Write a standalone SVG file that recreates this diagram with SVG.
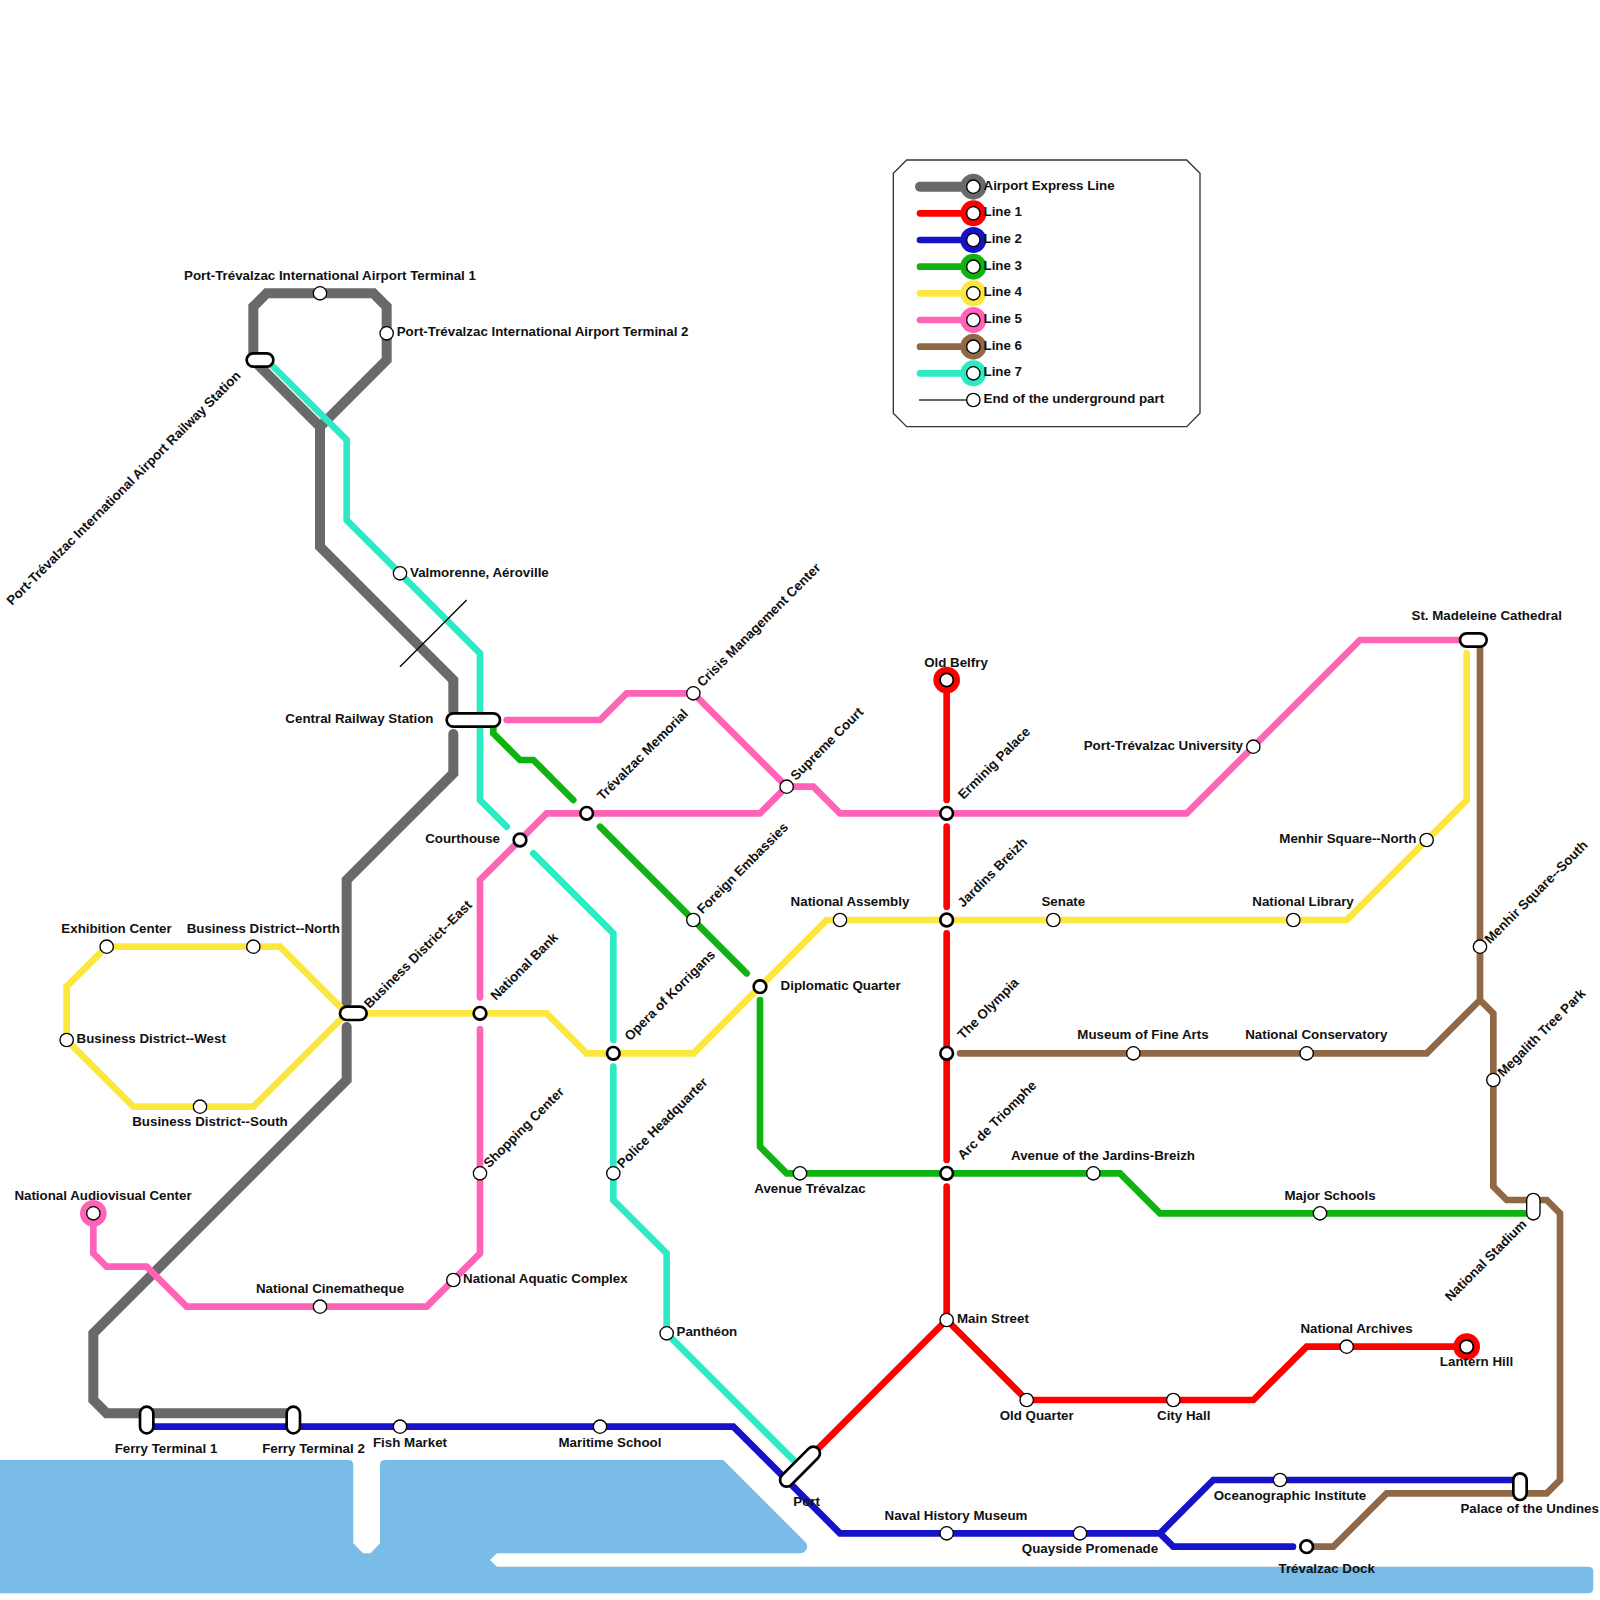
<svg xmlns="http://www.w3.org/2000/svg" width="1600" height="1600" viewBox="0 0 1600 1600">
<style>
.l{fill:none;stroke-width:6.67;stroke-linejoin:miter;stroke-linecap:round}
.g{stroke:#696969;stroke-width:10}.r{stroke:#ff0000}.b{stroke:#1512c8}.n{stroke:#0fb30f}.y{stroke:#fbe73e}.p{stroke:#ff63b8}.w{stroke:#916846}.t{stroke:#2ceac4}
.s{fill:#fff;stroke:#000;stroke-width:1.33}
.x{fill:#fff;stroke:#000;stroke-width:2.67}
.h{fill:#fff;stroke:#000;stroke-width:1.8}
text{font-family:"Liberation Sans",Arial,sans-serif;font-size:13.33px;font-weight:bold;fill:#111}
.m{text-anchor:middle}.e{text-anchor:end}
</style>
<rect width="1600" height="1600" fill="#fff"/>
<g id="water"><path fill="#79bce8" d="M0 1460H348.300Q353.300 1460 353.300 1465V1543.300L363 1553.300H370.500L380 1543.300V1465Q380 1460 385 1460H723.300L805 1541.700Q809 1546 806 1550Q804 1553.300 800 1553.300H497L490 1560L497 1566.670H1588.300Q1593.300 1566.670 1593.300 1571.670V1588.300Q1593.300 1593.300 1588.300 1593.300H0Z"/></g>
<g id="connectors">
<path class="l g" d="M320 426.670L386.670 360V306.670L373.330 293.330H266.670L253.330 306.670V360L320 426.670V546.670L453.330 680V711"/>
<path class="l g" d="M453.330 734V773.330L346.670 880V1003"/>
<path class="l g" d="M346.670 1027V1080L93.330 1333.330V1400L106.670 1413.330H293.330"/>
<path class="l r" d="M946.670 680V800M946.670 826.670V906.670M946.670 933.330V1160M946.670 1186.670V1320M813.330 1453.330L946.670 1320L1026.670 1400H1253.330L1306.670 1346.670H1466.670"/>
<path class="l b" d="M146.670 1426.670H733.330L840 1533.330H1160L1213.330 1480H1520M1160 1533.330L1173.330 1546.670H1293"/>
<path class="l n" d="M493.330 726V733.330L520 760H533.330L573.330 800M600 826.670L746.670 973.330M760 1000V1146.670L786.670 1173.330H1120L1160 1213.330H1533.330"/>
<path class="l y" d="M1466.670 653.330V800L1346.670 920H826.670L693.330 1053.330H586.670L546.670 1013.330H353.330M346.670 1013.330L280 946.670H106.670L66.670 986.670V1040L133.330 1106.670H253.330L346.670 1013.330"/>
<path class="l p" d="M506.670 720H600L626.670 693.330H693.330L786.670 786.670H813.330L840 813.330H1186.670L1360 640H1466.670"/>
<path class="l p" d="M93.330 1213.330V1253.330L106.670 1266.670H146.670L186.670 1306.670H426.670L480 1253.330V1029.330M480 997.330V880L546.670 813.330H760L786.670 786.670"/>
<path class="l w" d="M1306.670 1546.670H1333.330L1386.670 1493.330H1546.670L1560 1480V1213.330L1546.670 1200H1506.670L1493.330 1186.670V1013.330L1480 1000V640M1480 1000L1426.670 1053.330H960"/>
<path class="l t" d="M266.670 360L346.670 440V520L480 653.330V800L506.670 826.670M533.330 853.330L613.330 933.330V1040M613.330 1066.670V1200L666.670 1253.330V1333.330L800 1466.670"/>
<path fill="none" stroke="#000" stroke-width="1.33" d="M400 666.670L466.670 600"/>
</g>
<g id="legend">
<path fill="#fff" stroke="#333" stroke-width="1.33" d="M906.670 160H1186.670L1200 173.330V413.330L1186.670 426.670H906.670L893.330 413.330V173.330Z"/>
<path class="l g" d="M920 186.670H973.330"/><circle cx="973.330" cy="186.670" r="13" fill="#696969"/><circle class="s" cx="973.330" cy="186.670" r="6.67"/><text x="983.500" y="190">Airport Express Line</text>
<path class="l r" d="M920 213.330H973.330"/><circle cx="973.330" cy="213.330" r="13" fill="#ff0000"/><circle class="s" cx="973.330" cy="213.330" r="6.67"/><text x="983.500" y="216.300">Line 1</text>
<path class="l b" d="M920 240H973.330"/><circle cx="973.330" cy="240" r="13" fill="#1512c8"/><circle class="s" cx="973.330" cy="240" r="6.67"/><text x="983.500" y="243">Line 2</text>
<path class="l n" d="M920 266.670H973.330"/><circle cx="973.330" cy="266.670" r="13" fill="#0fb30f"/><circle class="s" cx="973.330" cy="266.670" r="6.67"/><text x="983.500" y="269.600">Line 3</text>
<path class="l y" d="M920 293.330H973.330"/><circle cx="973.330" cy="293.330" r="13" fill="#fbe73e"/><circle class="s" cx="973.330" cy="293.330" r="6.67"/><text x="983.500" y="296.300">Line 4</text>
<path class="l p" d="M920 320H973.330"/><circle cx="973.330" cy="320" r="13" fill="#ff63b8"/><circle class="s" cx="973.330" cy="320" r="6.67"/><text x="983.500" y="323">Line 5</text>
<path class="l w" d="M920 346.670H973.330"/><circle cx="973.330" cy="346.670" r="13" fill="#916846"/><circle class="s" cx="973.330" cy="346.670" r="6.67"/><text x="983.500" y="349.600">Line 6</text>
<path class="l t" d="M920 373.330H973.330"/><circle cx="973.330" cy="373.330" r="13" fill="#2ceac4"/><circle class="s" cx="973.330" cy="373.330" r="6.67"/><text x="983.500" y="376.300">Line 7</text>
<path stroke="#333" stroke-width="1.33" d="M919 400H973.330"/><circle class="s" cx="973.330" cy="400" r="6.67"/><text x="983.500" y="403">End of the underground part</text>
</g>
<g id="st-t1"><circle class="s" cx="320" cy="293.330" r="6.67"/><text class="m" x="330" y="280">Port-Trévalzac International Airport Terminal 1</text></g>
<g id="st-t2"><circle class="s" cx="386.670" cy="333.330" r="6.67"/><text x="396.700" y="336">Port-Trévalzac International Airport Terminal 2</text></g>
<g id="st-airportrail"><rect class="x" x="246.670" y="353.330" width="26.670" height="13.330" rx="6.670"/><text class="e" transform="translate(241.500 376.500) rotate(-45)">Port-Trévalzac International Airport Railway Station</text></g>
<g id="st-valmorenne"><circle class="s" cx="400" cy="573.330" r="6.67"/><text x="410" y="576.500">Valmorenne, Aéroville</text></g>
<g id="st-central"><rect class="x" x="446.670" y="713.330" width="53.330" height="13.330" rx="6.670"/><text class="e" x="433.500" y="723">Central Railway Station</text></g>
<g id="st-courthouse"><circle class="x" cx="520" cy="840" r="6.33"/><text class="e" x="500" y="843">Courthouse</text></g>
<g id="st-memorial"><circle class="x" cx="586.670" cy="813.330" r="6.33"/><text transform="translate(602.500 801) rotate(-45)">Trévalzac Memorial</text></g>
<g id="st-crisis"><circle class="s" cx="693.330" cy="693.330" r="6.67"/><text transform="translate(702.500 687.500) rotate(-45)">Crisis Management Center</text></g>
<g id="st-supreme"><circle class="s" cx="786.670" cy="786.670" r="6.67"/><text transform="translate(796 781) rotate(-45)">Supreme Court</text></g>
<g id="st-foreign"><circle class="s" cx="693.330" cy="920" r="6.67"/><text transform="translate(702.500 914.500) rotate(-45)">Foreign Embassies</text></g>
<g id="st-assembly"><circle class="s" cx="840" cy="920" r="6.67"/><text class="m" x="850" y="906">National Assembly</text></g>
<g id="st-senate"><circle class="s" cx="1053.330" cy="920" r="6.67"/><text class="m" x="1063.300" y="906">Senate</text></g>
<g id="st-library"><circle class="s" cx="1293.330" cy="920" r="6.67"/><text class="m" x="1303" y="906">National Library</text></g>
<g id="st-menhirn"><circle class="s" cx="1426.670" cy="840" r="6.67"/><text class="e" x="1416.300" y="843">Menhir Square--North</text></g>
<g id="st-menhirs"><circle class="s" cx="1480" cy="946.670" r="6.67"/><text transform="translate(1490 944.500) rotate(-45)">Menhir Square--South</text></g>
<g id="st-megalith"><circle class="s" cx="1493.330" cy="1080" r="6.67"/><text transform="translate(1503 1077.500) rotate(-45)">Megalith Tree Park</text></g>
<g id="st-university"><circle class="s" cx="1253.330" cy="746.670" r="6.67"/><text class="e" x="1243" y="750">Port-Trévalzac University</text></g>
<g id="st-madeleine"><rect class="x" x="1460" y="633.330" width="26.670" height="13.330" rx="6.670"/><text class="m" x="1486.700" y="620">St. Madeleine Cathedral</text></g>
<g id="st-belfry"><circle cx="946.670" cy="680" r="13.330" fill="#ff0000"/><circle class="h" cx="946.670" cy="680" r="6.67"/><text class="m" x="956" y="667">Old Belfry</text></g>
<g id="st-erminig"><circle class="x" cx="946.670" cy="813.330" r="6.33"/><text transform="translate(963.500 800) rotate(-45)">Erminig Palace</text></g>
<g id="st-jardins"><circle class="x" cx="946.670" cy="920" r="6.33"/><text transform="translate(963 908) rotate(-45)">Jardins Breizh</text></g>
<g id="st-olympia"><circle class="x" cx="946.670" cy="1053.330" r="6.33"/><text transform="translate(963 1040) rotate(-45)">The Olympia</text></g>
<g id="st-arc"><circle class="x" cx="946.670" cy="1173.330" r="6.33"/><text transform="translate(963 1160.500) rotate(-45)">Arc de Triomphe</text></g>
<g id="st-diplomatic"><circle class="x" cx="760" cy="986.670" r="6.33"/><text x="780.600" y="990">Diplomatic Quarter</text></g>
<g id="st-exhibition"><circle class="s" cx="106.670" cy="946.670" r="6.67"/><text class="m" x="116.500" y="933">Exhibition Center</text></g>
<g id="st-bdn"><circle class="s" cx="253.330" cy="946.670" r="6.67"/><text class="m" x="263.300" y="933">Business District--North</text></g>
<g id="st-bdw"><circle class="s" cx="66.670" cy="1040" r="6.67"/><text x="76.500" y="1043">Business District--West</text></g>
<g id="st-bds"><circle class="s" cx="200" cy="1106.670" r="6.67"/><text class="m" x="210" y="1126">Business District--South</text></g>
<g id="st-bde"><rect class="x" x="340" y="1006.670" width="26.670" height="13.330" rx="6.670"/><text transform="translate(369.500 1009) rotate(-45)">Business District--East</text></g>
<g id="st-bank"><circle class="x" cx="480" cy="1013.330" r="6.33"/><text transform="translate(496 1001) rotate(-45)">National Bank</text></g>
<g id="st-opera"><circle class="x" cx="613.330" cy="1053.330" r="6.33"/><text transform="translate(630 1041.500) rotate(-45)">Opera of Korrigans</text></g>
<g id="st-police"><circle class="s" cx="613.330" cy="1173.330" r="6.67"/><text transform="translate(622.500 1169) rotate(-45)">Police Headquarter</text></g>
<g id="st-shopping"><circle class="s" cx="480" cy="1173.330" r="6.67"/><text transform="translate(489 1168.500) rotate(-45)">Shopping Center</text></g>
<g id="st-audiovisual"><circle cx="93.330" cy="1213.330" r="13.330" fill="#ff63b8"/><circle class="s" cx="93.330" cy="1213.330" r="6.67"/><text class="m" x="103" y="1199.500">National Audiovisual Center</text></g>
<g id="st-cinema"><circle class="s" cx="320" cy="1306.670" r="6.67"/><text class="m" x="330" y="1293">National Cinematheque</text></g>
<g id="st-aquatic"><circle class="s" cx="453.330" cy="1280" r="6.67"/><text x="463" y="1283">National Aquatic Complex</text></g>
<g id="st-museum"><circle class="s" cx="1133.330" cy="1053.330" r="6.67"/><text class="m" x="1143" y="1039">Museum of Fine Arts</text></g>
<g id="st-conservatory"><circle class="s" cx="1306.670" cy="1053.330" r="6.67"/><text class="m" x="1316.300" y="1039">National Conservatory</text></g>
<g id="st-avejardins"><circle class="s" cx="1093.330" cy="1173.330" r="6.67"/><text class="m" x="1103" y="1159.500">Avenue of the Jardins-Breizh</text></g>
<g id="st-schools"><circle class="s" cx="1320" cy="1213.330" r="6.67"/><text class="m" x="1330" y="1200">Major Schools</text></g>
<g id="st-avetrev"><circle class="s" cx="800" cy="1173.330" r="6.67"/><text class="m" x="810" y="1193">Avenue Trévalzac</text></g>
<g id="st-stadium"><rect x="1526.670" y="1193.330" width="13.330" height="26.670" rx="6.670" fill="#fff" stroke="#000" stroke-width="1.33"/><text class="e" transform="translate(1527.500 1225) rotate(-45)">National Stadium</text></g>
<g id="st-main"><circle class="s" cx="946.670" cy="1320" r="6.67"/><text x="957" y="1323">Main Street</text></g>
<g id="st-oldquarter"><circle class="s" cx="1026.670" cy="1400" r="6.67"/><text class="m" x="1036.700" y="1420">Old Quarter</text></g>
<g id="st-cityhall"><circle class="s" cx="1173.330" cy="1400" r="6.67"/><text class="m" x="1183.700" y="1420">City Hall</text></g>
<g id="st-archives"><circle class="s" cx="1346.670" cy="1346.670" r="6.67"/><text class="m" x="1356.500" y="1333">National Archives</text></g>
<g id="st-lantern"><circle cx="1466.670" cy="1346.670" r="13.330" fill="#ff0000"/><circle class="h" cx="1466.670" cy="1346.670" r="6.67"/><text class="m" x="1476.500" y="1366">Lantern Hill</text></g>
<g id="st-pantheon"><circle class="s" cx="666.670" cy="1333.330" r="6.67"/><text x="676.500" y="1336">Panthéon</text></g>
<g id="st-ferry1"><rect class="x" x="140" y="1406.670" width="13.330" height="26.670" rx="6.670"/><text class="m" x="166" y="1453.300">Ferry Terminal 1</text></g>
<g id="st-ferry2"><rect class="x" x="286.670" y="1406.670" width="13.330" height="26.670" rx="6.670"/><text class="m" x="313.500" y="1453.300">Ferry Terminal 2</text></g>
<g id="st-fish"><circle class="s" cx="400" cy="1426.670" r="6.67"/><text class="m" x="410" y="1446.700">Fish Market</text></g>
<g id="st-maritime"><circle class="s" cx="600" cy="1426.670" r="6.67"/><text class="m" x="610" y="1446.700">Maritime School</text></g>
<g id="st-port"><rect class="x" x="774.500" y="1460" width="51" height="13.330" rx="6.670" transform="rotate(-45 800 1466.670)"/><text class="m" x="806.670" y="1506">Port</text></g>
<g id="st-naval"><circle class="s" cx="946.670" cy="1533.330" r="6.67"/><text class="m" x="956" y="1519.500">Naval History Museum</text></g>
<g id="st-quayside"><circle class="s" cx="1080" cy="1533.330" r="6.67"/><text class="m" x="1090" y="1553">Quayside Promenade</text></g>
<g id="st-ocean"><circle class="s" cx="1280" cy="1480" r="6.67"/><text class="m" x="1290" y="1500">Oceanographic Institute</text></g>
<g id="st-dock"><circle class="x" cx="1306.670" cy="1546.670" r="6.33"/><text class="m" x="1326.700" y="1573.300">Trévalzac Dock</text></g>
<g id="st-palace"><rect class="x" x="1513.330" y="1473.330" width="13.330" height="26.670" rx="6.670"/><text class="m" x="1529.700" y="1513.300">Palace of the Undines</text></g>
</svg>
